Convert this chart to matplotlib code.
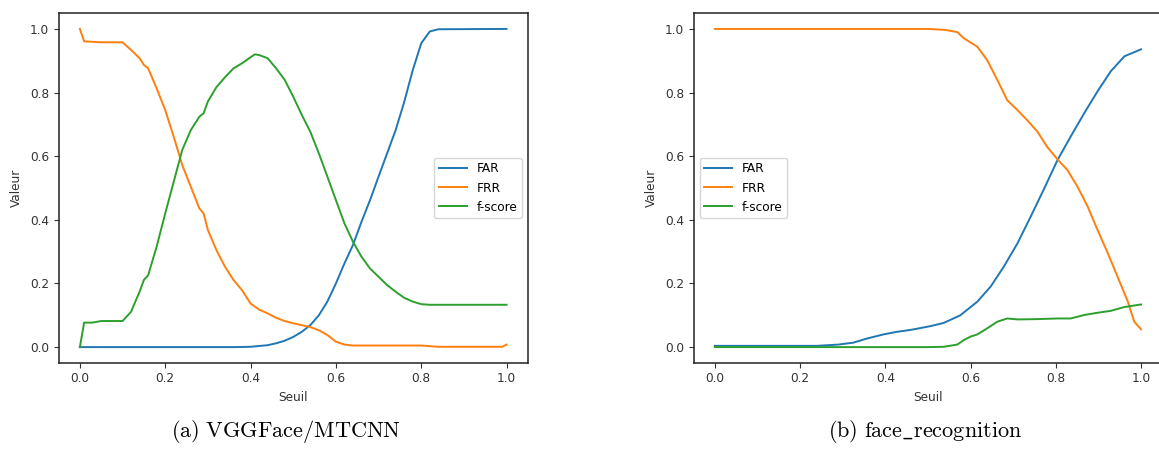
import matplotlib
matplotlib.use("Agg")
import matplotlib.pyplot as plt

plt.rcParams['mathtext.fontset'] = 'cm'

# (a) VGGFace/MTCNN
a_far_x = [0, 0.36, 0.40, 0.44, 0.46, 0.48, 0.50, 0.52, 0.54, 0.56, 0.58, 0.60, 0.62, 0.64,
           0.66, 0.68, 0.70, 0.72, 0.74, 0.76, 0.78, 0.80, 0.82, 0.84, 1.0]
a_far = [0, 0, 0.001, 0.006, 0.012, 0.02, 0.032, 0.048, 0.069, 0.10, 0.143, 0.20, 0.263, 0.321,
         0.394, 0.462, 0.536, 0.609, 0.682, 0.77, 0.87, 0.955, 0.992, 0.999, 1.0]

a_frr_x = [0, 0.01, 0.05, 0.10, 0.12, 0.14, 0.15, 0.16, 0.18, 0.20, 0.22, 0.24, 0.26, 0.28, 0.29,
           0.30, 0.32, 0.34, 0.36, 0.38, 0.40, 0.42, 0.44, 0.46, 0.48, 0.50, 0.52, 0.54, 0.56,
           0.58, 0.60, 0.62, 0.64, 0.80, 0.84, 0.99, 1.0]
a_frr = [1.0, 0.961, 0.958, 0.958, 0.934, 0.908, 0.887, 0.876, 0.813, 0.745, 0.661, 0.572, 0.504,
         0.436, 0.42, 0.368, 0.305, 0.253, 0.211, 0.179, 0.137, 0.118, 0.106, 0.092, 0.082, 0.075,
         0.069, 0.063, 0.053, 0.038, 0.017, 0.008, 0.005, 0.005, 0.001, 0.001, 0.008]

a_f_x = [0, 0.01, 0.03, 0.05, 0.10, 0.12, 0.13, 0.14, 0.15, 0.16, 0.18, 0.20, 0.22, 0.24, 0.26,
         0.28, 0.29, 0.30, 0.32, 0.34, 0.36, 0.38, 0.40, 0.41, 0.42, 0.44, 0.46, 0.48, 0.50, 0.52,
         0.54, 0.56, 0.58, 0.60, 0.62, 0.64, 0.66, 0.68, 0.70, 0.72, 0.74, 0.76, 0.78, 0.80, 0.82, 1.0]
a_f = [0, 0.077, 0.077, 0.082, 0.082, 0.111, 0.143, 0.174, 0.211, 0.226, 0.316, 0.42, 0.52, 0.62,
       0.682, 0.724, 0.735, 0.772, 0.817, 0.848, 0.876, 0.892, 0.911, 0.92, 0.918, 0.908, 0.876,
       0.84, 0.787, 0.73, 0.677, 0.609, 0.536, 0.462, 0.389, 0.331, 0.284, 0.247, 0.221, 0.195,
       0.174, 0.155, 0.143, 0.135, 0.133, 0.133]

# (b) face_recognition
b_far_x = [0, 0.24, 0.29, 0.325, 0.357, 0.396, 0.427, 0.459, 0.475, 0.506, 0.537, 0.576, 0.616,
           0.647, 0.678, 0.710, 0.741, 0.773, 0.804, 0.835, 0.867, 0.898, 0.929, 0.961, 1.0]
b_far = [0.004, 0.004, 0.008, 0.014, 0.027, 0.040, 0.048, 0.054, 0.058, 0.066, 0.076, 0.100, 0.143,
         0.190, 0.253, 0.326, 0.410, 0.499, 0.588, 0.662, 0.736, 0.804, 0.867, 0.914, 0.936]

b_frr_x = [0, 0.50, 0.54, 0.569, 0.584, 0.616, 0.639, 0.663, 0.686, 0.710, 0.733, 0.757, 0.780,
           0.804, 0.827, 0.851, 0.875, 0.898, 0.922, 0.945, 0.969, 0.984, 1.0]
b_frr = [1.0, 1.0, 0.997, 0.99, 0.971, 0.944, 0.902, 0.839, 0.776, 0.745, 0.713, 0.677, 0.629,
         0.590, 0.557, 0.504, 0.441, 0.368, 0.295, 0.221, 0.143, 0.080, 0.056]

b_f_x = [0, 0.50, 0.537, 0.569, 0.584, 0.600, 0.616, 0.639, 0.663, 0.686, 0.710, 0.757, 0.804,
         0.835, 0.867, 0.898, 0.929, 0.961, 1.0]
b_f = [0, 0, 0.001, 0.008, 0.022, 0.033, 0.040, 0.059, 0.080, 0.090, 0.087, 0.088, 0.090, 0.090,
       0.101, 0.108, 0.114, 0.126, 0.134]

fig = plt.figure(figsize=(11.59, 4.49), dpi=100)
ax1 = fig.add_axes([0.0505, 0.1915, 0.405, 0.7795])
ax2 = fig.add_axes([0.5984, 0.1915, 0.4045, 0.7795])

panels = [
    (ax1, a_far_x, a_far, a_frr_x, a_frr, a_f_x, a_f, 'center right',
     r'$\mathrm{(a)\ VGGFace/MTCNN}$', 0.247),
    (ax2, b_far_x, b_far, b_frr_x, b_frr, b_f_x, b_f, 'center left',
     r'$\mathrm{(b)\ face\_recognition}$', 0.798),
]

for ax, fx, fy, rx, ry, sx, sy, loc, cap, cx in panels:
    ax.plot(fx, fy, color='#1f77b4', lw=1.4, label='FAR')
    ax.plot(rx, ry, color='#ff7f0e', lw=1.4, label='FRR')
    ax.plot(sx, sy, color='#2ca02c', lw=1.4, label='f-score')
    ax.set_xlim(-0.05, 1.05)
    ax.set_ylim(-0.05, 1.05)
    ax.set_xticks([0, 0.2, 0.4, 0.6, 0.8, 1.0])
    ax.set_yticks([0, 0.2, 0.4, 0.6, 0.8, 1.0])
    ax.tick_params(labelsize=8.7, colors='#333333', length=3.3, width=0.8)
    ax.set_xlabel('Seuil', fontsize=8.7, color='#333333', labelpad=4)
    ax.set_ylabel('Valeur', fontsize=8.7, color='#333333', labelpad=5)
    for s in ax.spines.values():
        s.set_linewidth(1.1)
        s.set_color('#222222')
    ax.legend(loc=loc, fontsize=8.7, handlelength=2.3, borderaxespad=0.5)
    fig.text(cx, 0.038, cap, fontsize=16, ha='center', va='center')

fig.savefig('out.png', dpi=100)
